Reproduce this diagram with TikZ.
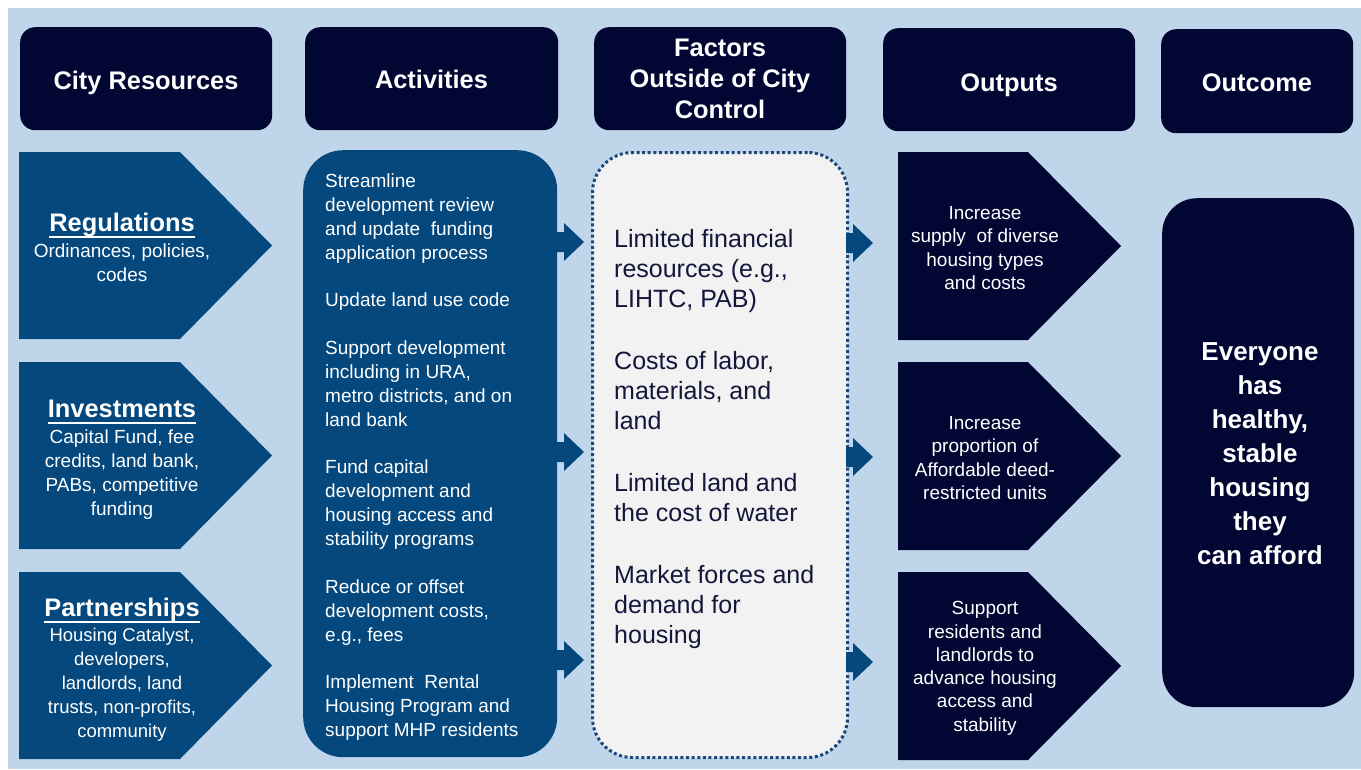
\documentclass[tikz,border=0pt]{standalone}
\usepackage{fontspec}
\setmainfont{Liberation Sans}

\definecolor{bgblue}{RGB}{191,214,234}
\definecolor{navy}{RGB}{2,6,50}
\definecolor{midblue}{RGB}{4,72,126}
\definecolor{paper}{RGB}{242,242,242}
\definecolor{dotline}{RGB}{28,72,124}
\definecolor{inktext}{RGB}{20,22,60}

% thick underline sitting a fixed distance under the baseline
\newcommand\titleul[1]{\setbox0\hbox{#1}\rlap{\rule[-6.5pt]{\wd0}{2pt}}\box0}

\tikzset{
  hdrbox/.style={fill=navy, rounded corners=15pt, anchor=north west, inner sep=0pt},
  hdrtext/.style={text=white, font=\fontsize{25.4}{31}\selectfont\bfseries, inner sep=0pt},
  colbox/.style={anchor=north west, inner sep=0pt, rounded corners=40pt},
  titletext/.style={text=white, font=\fontsize{25.4}{30}\selectfont\bfseries, inner sep=0pt},
  bodytext/.style={text=white, align=center, font=\fontsize{19}{24}\selectfont, inner sep=0pt},
  outtext/.style={text=white, align=center, font=\fontsize{19}{23.3}\selectfont, inner sep=0pt, anchor=north},
  blockarrow/.pic={\fill[midblue] (0,-10) -- (7,-10) -- (7,-19) -- (27,0) -- (7,19) -- (7,10) -- (0,10) -- cycle;}
}

\begin{document}
\begin{tikzpicture}[x=1pt,y=-1pt]
\useasboundingbox (0,0) rectangle (1361,769);
\fill[bgblue] (8,8) rectangle (1361,769);

% column headers
\node[hdrbox, minimum width=252pt, minimum height=103pt] (hcity) at (20,27) {};
\node[hdrbox, minimum width=253pt, minimum height=103pt] (hact) at (305,27) {};
\node[hdrbox, minimum width=252pt, minimum height=103pt] (hfac) at (594,27) {};
\node[hdrbox, minimum width=252pt, minimum height=103pt] (hout) at (883,28) {};
\node[hdrbox, minimum width=192pt, minimum height=104pt] (hres) at (1161,29) {};

\node[hdrtext, anchor=base] (thcity) at (146,89) {City Resources};
\node[hdrtext, anchor=base] (thact) at (431.5,88) {Activities};
\node[hdrtext, anchor=north, align=center] (thfac) at (720,39) {Factors\\Outside of City\\Control};
\node[hdrtext, anchor=base] (thout) at (1009,91) {Outputs};
\node[hdrtext, anchor=base] (thres) at (1257,91.5) {Outcome};

% city resources (pentagons)
\fill[midblue] (19,152) -- (180,152) -- (272,245.5) -- (180,339) -- (19,339) -- cycle;
\fill[midblue] (19,362) -- (180,362) -- (272,455.5) -- (180,549) -- (19,549) -- cycle;
\fill[midblue] (19,572) -- (180,572) -- (272,665.5) -- (180,759) -- (19,759) -- cycle;

\node[titletext, anchor=base] (regt) at (122,231) {\titleul{Regulations}};
\node[bodytext, anchor=north] (regb) at (122,243.3) {Ordinances, policies,\\codes};

\node[titletext, anchor=base] (invt) at (122,417) {\titleul{Investments}};
\node[bodytext, anchor=north] (invb) at (122,429.3) {Capital Fund, fee\\credits, land bank,\\PABs, competitive\\funding};

\node[titletext, anchor=base] (part) at (122,616) {\titleul{Partnerships}};
\node[bodytext, anchor=north, font=\fontsize{18.5}{24}\selectfont] (parb) at (122,627.7)
  {Housing Catalyst,\\developers,\\landlords, land\\trusts, non-profits,\\community};

% activities
\node[colbox, fill=midblue, minimum width=254pt, minimum height=607pt] (act) at (303,150) {};
\node[text=white, align=left, anchor=north west, inner sep=0pt, font=\fontsize{19}{24}\selectfont] (actt) at (325,173.3)
  {Streamline\\development review\\and update\ \ funding\\application process\\[23.5pt]
   Update land use code\\[23.5pt]
   Support development\\including in URA,\\metro districts, and on\\land bank\\[23.5pt]
   Fund capital\\development and\\housing access and\\stability programs\\[23.5pt]
   Reduce or offset\\development costs,\\e.g., fees\\[23.5pt]
   Implement\ \ Rental\\Housing Program and\\support MHP residents};

% factors outside of city control
\node[colbox, fill=paper, draw=dotline, line width=3pt, dash pattern=on 3pt off 2.6pt,
      minimum width=255pt, minimum height=605pt] (fac) at (591,151) {};
\node[text=inktext, align=left, anchor=north west, inner sep=0pt, font=\fontsize{25}{30}\selectfont] (fact) at (614,229.3)
  {Limited financial\\resources (e.g.,\\LIHTC, PAB)\\[32pt]
   Costs of labor,\\materials, and\\land\\[32pt]
   Limited land and\\the cost of water\\[32pt]
   Market forces and\\demand for\\housing};

% arrows between columns
\pic at (557,242) {blockarrow};
\pic at (557,452) {blockarrow};
\pic at (557,660) {blockarrow};
\pic at (846,243) {blockarrow};
\pic at (846,457) {blockarrow};
\pic at (846,662) {blockarrow};

% outputs (pentagons)
\fill[navy] (898,152) -- (1028,152) -- (1121,246) -- (1028,340) -- (898,340) -- cycle;
\fill[navy] (898,362) -- (1028,362) -- (1121,456) -- (1028,550) -- (898,550) -- cycle;
\fill[navy] (898,572) -- (1028,572) -- (1121,666) -- (1028,760) -- (898,760) -- cycle;

\node[outtext] (out1) at (985,206.3) {Increase\\supply\ \ of diverse\\housing types\\and costs};
\node[outtext] (out2) at (985,416.3) {Increase\\proportion of\\Affordable deed-\\restricted units};
\node[outtext] (out3) at (985,601.3) {Support\\residents and\\landlords to\\advance housing\\access and\\stability};

% outcome
\node[colbox, fill=navy, rounded corners=35pt, minimum width=192pt, minimum height=509pt] (res) at (1162,198) {};
\node[text=white, align=center, anchor=north, inner sep=0pt, font=\fontsize{26}{34}\selectfont\bfseries] (rest) at (1260,342.3)
  {Everyone\\has\\healthy,\\stable\\housing\\they\\can afford};
\end{tikzpicture}
\end{document}
